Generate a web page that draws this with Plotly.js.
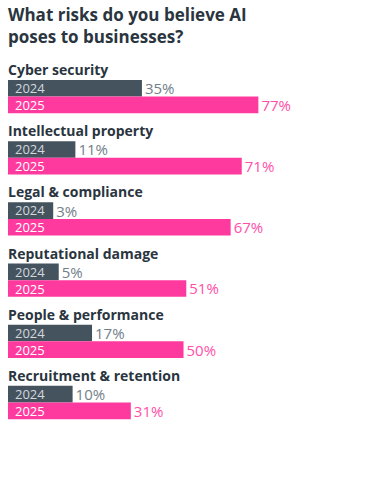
<!DOCTYPE html>
<html>
<head>
<meta charset="utf-8">
<script src="https://cdn.plot.ly/plotly-3.0.1.min.js"></script>
<style>html,body{margin:0;padding:0;background:#fff;}#chart{width:379px;height:490px;}</style>
</head>
<body>
<div id="chart"></div>
<script>
const categories = ["Cyber security", "Intellectual property", "Legal & compliance", "Reputational damage", "People & performance", "Recruitment & retention"];
const values2024 = [35, 11, 3, 5, 17, 10];
const values2025 = [77, 71, 67, 51, 50, 31];
const seriesNames = ["2024", "2025"];

const LABEL_ZONE = 13.3; // room at the start of each bar for the year label
const FONT = "'Open Sans', sans-serif";
const c2024 = "#45535f", c2025 = "#ff3a9e";

const baseArr = categories.map(() => -LABEL_ZONE);
function makeTrace(name, vals, color, textColor) {
  return {type: "bar", orientation: "h", name: name, y: categories,
    x: vals.map(v => v + LABEL_ZONE), base: baseArr,
    marker: {color: color}, text: vals.map(v => v + "%"), textposition: "outside", constraintext: "none",
    outsidetextfont: {family: FONT, size: 15, color: textColor}, cliponaxis: false, hoverinfo: "skip"};
}
const traces = [
  makeTrace(seriesNames[0], values2024, c2024, "#727e89"),
  makeTrace(seriesNames[1], values2025, c2025, "#ff4fa8")
];

const annotations = [];
categories.forEach(c => {
  annotations.push({xref: "x", yref: "y", x: -LABEL_ZONE, y: c, yshift: 27, xshift: -2, xanchor: "left", yanchor: "middle",
    text: "<b>" + c + "</b>", showarrow: false, font: {family: FONT, size: 14, color: "#2a3540"}});
  annotations.push({xref: "x", yref: "y", x: -LABEL_ZONE, y: c, yshift: 8.5, xshift: 5, xanchor: "left", yanchor: "middle",
    text: seriesNames[0], showarrow: false, font: {family: FONT, size: 13, color: "#d3d8dd"}});
  annotations.push({xref: "x", yref: "y", x: -LABEL_ZONE, y: c, yshift: -8.5, xshift: 5, xanchor: "left", yanchor: "middle",
    text: seriesNames[1], showarrow: false, font: {family: FONT, size: 13, color: "#ffffff"}});
});

const layout = {
  width: 379, height: 490,
  margin: {l: 8, r: 0, t: 66, b: 49},
  paper_bgcolor: "#fff", plot_bgcolor: "#fff",
  showlegend: false,
  barmode: "group", bargap: 0.456, bargroupgap: 0,
  title: {text: "<b>What risks do you believe AI<br>poses to businesses?</b>", xref: "paper", x: 0, xanchor: "left",
    yref: "container", y: 0.957, yanchor: "top", font: {family: FONT, size: 17, color: "#2a3540"}},
  xaxis: {range: [-LABEL_ZONE, 120.5], visible: false, fixedrange: true},
  yaxis: {type: "category", categoryorder: "array", categoryarray: categories, autorange: "reversed",
    showticklabels: false, showgrid: false, zeroline: false, showline: false, ticks: ""},
  annotations: annotations
};

Plotly.newPlot("chart", traces, layout, {displayModeBar: false, staticPlot: true});
</script>
</body>
</html>
